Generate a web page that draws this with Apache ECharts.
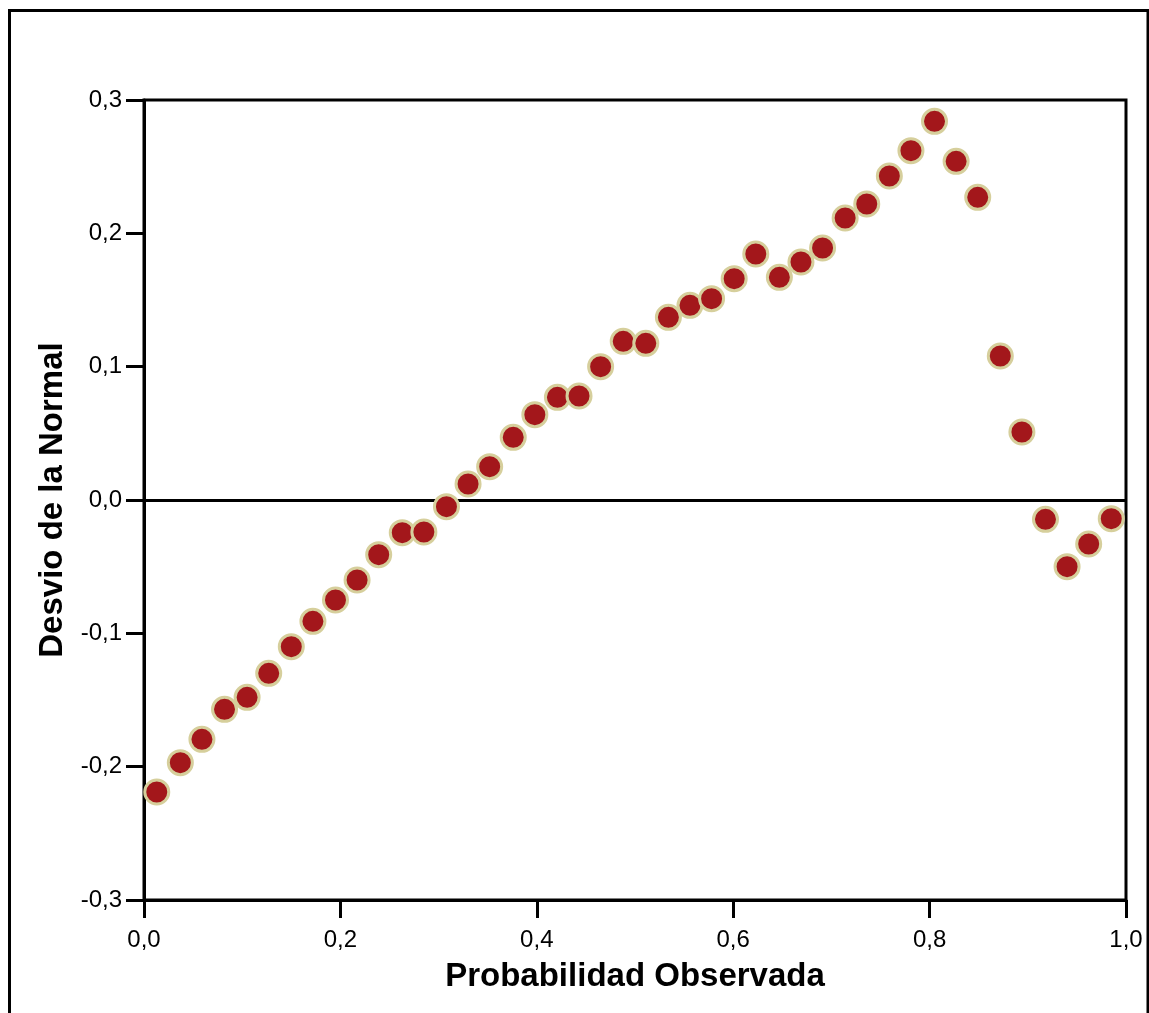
<!DOCTYPE html>
<html>
<head>
<meta charset="utf-8">
<script src="https://cdn.jsdelivr.net/npm/echarts@6/dist/echarts.min.js"></script>
<style>
html,body{margin:0;padding:0;background:#fff;}
#chart{width:1149px;height:1013px;}
</style>
</head>
<body>
<div id="chart"></div>
<script>
const probObservada = [0.013,0.037,0.059,0.082,0.105,0.127,0.150,0.172,0.195,0.217,0.239,0.263,0.285,0.308,0.330,0.352,0.376,0.398,0.421,0.443,0.465,0.488,0.511,0.534,0.556,0.578,0.601,0.623,0.647,0.669,0.691,0.714,0.736,0.759,0.781,0.805,0.827,0.849,0.872,0.894,0.918,0.940,0.962,0.985];
const desvioNormal = [-0.219,-0.197,-0.1795,-0.157,-0.148,-0.130,-0.110,-0.091,-0.075,-0.060,-0.041,-0.0245,-0.024,-0.005,0.012,0.025,0.047,0.064,0.077,0.078,0.100,0.119,0.1175,0.137,0.146,0.151,0.166,0.1845,0.167,0.1785,0.189,0.2115,0.222,0.243,0.262,0.284,0.254,0.227,0.108,0.051,-0.0145,-0.050,-0.033,-0.014];
const xTitle = 'Probabilidad Observada';
const yTitle = 'Desvio de la Normal';

const points = probObservada.map((x, i) => [x, desvioNormal[i]]);
const fmt = v => v.toFixed(1).replace('.', ',');
const FONT = '"Liberation Sans", Arial, sans-serif';

const chart = echarts.init(document.getElementById('chart'), null, {renderer: 'canvas'});
chart.setOption({
  animation: false,
  backgroundColor: '#fff',
  graphic: [{
    type: 'rect',
    shape: {x: 9.5, y: 10.5, width: 1138.5, height: 1040},
    style: {fill: 'none', stroke: '#000', lineWidth: 3},
    silent: true
  }],
  grid: {
    left: 144, right: 23, top: 100, bottom: 113,
    show: true, borderColor: '#000', borderWidth: 3, backgroundColor: 'transparent'
  },
  xAxis: {
    type: 'value', min: 0, max: 1, interval: 0.2,
    name: xTitle, nameLocation: 'middle', nameGap: 60,
    nameTextStyle: {fontFamily: FONT, fontWeight: 'bold', fontSize: 33, color: '#000'},
    axisLine: {show: true, onZero: false, lineStyle: {color: '#000', width: 3}},
    axisTick: {show: true, inside: false, length: 18, lineStyle: {color: '#000', width: 3}},
    axisLabel: {formatter: fmt, fontFamily: FONT, fontSize: 24, color: '#000', margin: 28},
    splitLine: {show: false}
  },
  yAxis: {
    type: 'value', min: -0.3, max: 0.3, interval: 0.1,
    name: yTitle, nameLocation: 'middle', nameGap: 74, nameRotate: 90,
    nameTextStyle: {fontFamily: FONT, fontWeight: 'bold', fontSize: 33, color: '#000'},
    axisLine: {show: true, onZero: false, lineStyle: {color: '#000', width: 3}},
    axisTick: {show: true, inside: false, length: 18, lineStyle: {color: '#000', width: 3}},
    axisLabel: {formatter: fmt, fontFamily: FONT, fontSize: 24, color: '#000', margin: 22, padding: [4, 0, 0, 0]},
    splitLine: {show: false}
  },
  series: [{
    type: 'scatter',
    data: points,
    symbol: 'circle',
    symbolSize: 24,
    itemStyle: {color: '#a3171b', borderColor: '#d6cf9c', borderWidth: 3, opacity: 1},
    markLine: {
      silent: true, symbol: 'none', animation: false,
      label: {show: false},
      lineStyle: {color: '#000', width: 3, type: 'solid'},
      data: [{yAxis: 0}],
      z: 1
    },
    z: 3
  }]
});
</script>
</body>
</html>
